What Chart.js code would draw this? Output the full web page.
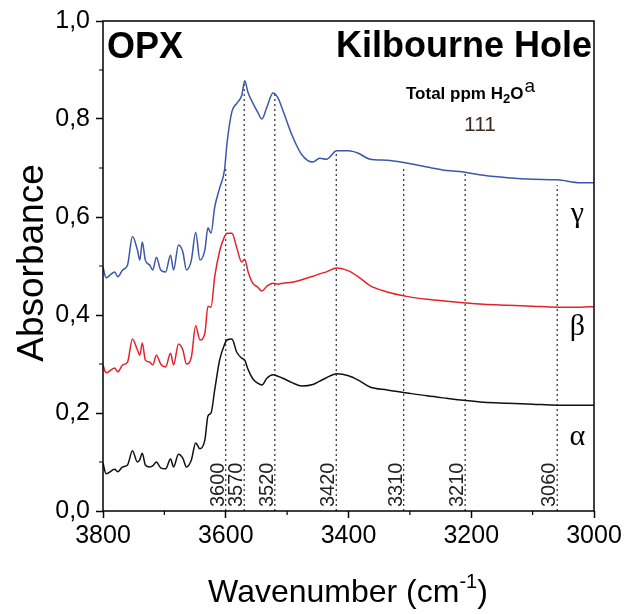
<!DOCTYPE html>
<html lang="en">
<head>
  <meta charset="UTF-8" />
  <title>OPX Kilbourne Hole</title>
  <script src="https://cdn.jsdelivr.net/npm/chart.js"></script>
  <style>
    body { margin: 0; background: #fff; }
    #wrap { width: 628px; height: 614px; }
  </style>
</head>
<body>
  <div id="wrap"><canvas id="ftir" width="628" height="614"></canvas></div>

  <script>
    // wavenumber grid (cm-1) shared by the three spectra
    const wavenumbers = [3800,3795,3781,3776,3768,3760,3752,3744,3740,3736,3731,3724,3719,3713,3706,3698,3690,3685,3677,3670,3664,3656,3649,3642,3634,3629,3624,3618,3610,3602,3598,3590,3582,3574,3569,3564,3556,3548,3541,3533,3523,3515,3507,3492,3476,3458,3447,3436,3419,3400,3384,3365,3337,3305,3272,3240,3213,3180,3141,3100,3060,3022,3000];

    const gamma = [.498,.476,.488,.478,.492,.502,.56,.533,.512,.549,.512,.502,.492,.518,.492,.488,.522,.492,.543,.529,.492,.512,.569,.512,.533,.578,.567,.62,.659,.696,.75,.815,.832,.848,.878,.855,.833,.814,.80,.824,.853,.843,.818,.767,.727,.712,.72,.718,.735,.735,.73,.718,.716,.71,.702,.695,.692,.685,.68,.677,.676,.67,.67];
    const beta = [.298,.282,.292,.284,.298,.304,.351,.329,.318,.343,.308,.304,.298,.318,.300,.294,.322,.298,.341,.329,.300,.314,.378,.349,.363,.418,.416,.478,.53,.56,.567,.567,.537,.508,.514,.49,.465,.457,.449,.459,.465,.463,.465,.467,.472,.479,.484,.488,.496,.49,.478,.46,.447,.438,.432,.428,.425,.422,.42,.418,.416,.416,.417];
    const alpha = [.098,.076,.085,.080,.090,.094,.123,.100,.105,.118,.094,.090,.092,.100,.088,.086,.106,.090,.116,.108,.090,.104,.139,.127,.145,.194,.200,.247,.308,.34,.349,.351,.324,.312,.308,.29,.27,.261,.257,.271,.278,.275,.271,.262,.255,.258,.265,.272,.28,.276,.267,.253,.247,.241,.235,.23,.226,.222,.22,.218,.216,.216,.216];

    // OH band positions and the height the dotted guides reach
    const bandWn = [3600, 3570, 3520, 3420, 3310, 3210, 3060];
    const bandTop = [0.70, 0.873, 0.853, 0.733, 0.70, 0.688, 0.665];

    const xTicks = [3800, 3600, 3400, 3200, 3000];
    const yTicks = [0, 0.2, 0.4, 0.6, 0.8, 1.0];
    const seriesNames = ['α', 'β', 'γ'];
    const waterPpm = '111';

    const FONT = "'Liberation Sans', Arial, sans-serif";

    function toPoints(ys) {
      return wavenumbers.map((w, i) => ({ x: w, y: ys[i] }));
    }

    const spectra = [
      { data: toPoints(alpha), borderColor: '#111111' },
      { data: toPoints(beta), borderColor: '#e3232c' },
      { data: toPoints(gamma), borderColor: '#3b58a8' }
    ].map(d => Object.assign(d, {
      borderWidth: 1.5,
      pointRadius: 0,
      fill: false,
      cubicInterpolationMode: 'monotone'
    }));

    const guides = bandWn.map((w, i) => ({
      data: [{ x: w, y: 0 }, { x: w, y: bandTop[i] }],
      borderColor: '#000',
      borderWidth: 1,
      borderDash: [2, 3],
      pointRadius: 0,
      fill: false
    }));

    // frame, minor ticks and all the text annotations
    const decor = {
      id: 'decor',
      afterDraw(chart) {
        const ctx = chart.ctx;
        const a = chart.chartArea;
        const xs = chart.scales.x, ys = chart.scales.y;
        ctx.save();

        ctx.strokeStyle = '#000';
        ctx.lineWidth = 1.5;
        ctx.strokeRect(a.left, a.top, a.right - a.left, a.bottom - a.top);

        ctx.lineWidth = 1.2;
        ctx.beginPath();
        [3700, 3500, 3300, 3100].forEach(v => {
          const px = xs.getPixelForValue(v);
          ctx.moveTo(px, a.bottom);
          ctx.lineTo(px, a.bottom + 4);
        });
        [0.1, 0.3, 0.5, 0.7, 0.9].forEach(v => {
          const py = ys.getPixelForValue(v);
          ctx.moveTo(a.left, py);
          ctx.lineTo(a.left - 4, py);
        });
        ctx.stroke();

        // band labels, rotated
        ctx.fillStyle = '#222';
        ctx.font = '20px ' + FONT;
        ctx.textAlign = 'left';
        ctx.textBaseline = 'alphabetic';
        bandWn.forEach(w => {
          const px = xs.getPixelForValue(w);
          ctx.save();
          ctx.translate(px - 2, a.bottom - 4);
          ctx.rotate(-Math.PI / 2);
          ctx.fillText(String(w), 0, 0);
          ctx.restore();
        });

        // headings
        ctx.fillStyle = '#000';
        ctx.font = 'bold 36px ' + FONT;
        ctx.textAlign = 'left';
        ctx.fillText('OPX', a.left + 4, a.top + 37);
        ctx.textAlign = 'right';
        ctx.fillText('Kilbourne Hole', a.right - 2, a.top + 36);

        // Total ppm H2O^a
        ctx.textAlign = 'left';
        let x = 406;
        const by = 99;
        ctx.font = 'bold 17px ' + FONT;
        ctx.fillText('Total ppm H', x, by);
        x += ctx.measureText('Total ppm H').width;
        ctx.font = 'bold 13px ' + FONT;
        ctx.fillText('2', x, by + 4);
        x += ctx.measureText('2').width;
        ctx.font = 'bold 17px ' + FONT;
        ctx.fillText('O', x, by);
        x += ctx.measureText('O').width;
        ctx.font = '19px ' + FONT;
        ctx.fillText('a', x + 1, by - 7);

        ctx.fillStyle = '#3a2a22';
        ctx.font = '21px ' + FONT;
        ctx.textAlign = 'center';
        ctx.fillText(waterPpm, 480, 131);

        // series letters
        ctx.fillStyle = '#000';
        ctx.font = "30px 'Liberation Serif', 'Times New Roman', serif";
        const letterY = [0.155, 0.38, 0.61];
        seriesNames.forEach((s, i) => {
          ctx.fillText(s, xs.getPixelForValue(3027), ys.getPixelForValue(letterY[i]) + 10);
        });

        // axis titles
        ctx.font = '37px ' + FONT;
        ctx.save();
        ctx.translate(43, 263);
        ctx.rotate(-Math.PI / 2);
        ctx.textAlign = 'center';
        ctx.fillText('Absorbance', 0, 0);
        ctx.restore();

        ctx.textAlign = 'left';
        const main = 'Wavenumber (cm';
        ctx.font = '32px ' + FONT;
        const w1 = ctx.measureText(main).width;
        ctx.font = '20px ' + FONT;
        const w2 = ctx.measureText('-1').width;
        ctx.font = '32px ' + FONT;
        const w3 = ctx.measureText(')').width;
        let tx = 348 - (w1 + w2 + w3) / 2;
        const ty = 602;
        ctx.fillText(main, tx, ty);
        tx += w1;
        ctx.font = '20px ' + FONT;
        ctx.fillText('-1', tx, ty - 14);
        tx += w2;
        ctx.font = '32px ' + FONT;
        ctx.fillText(')', tx, ty);

        ctx.restore();
      }
    };

    new Chart(document.getElementById('ftir').getContext('2d'), {
      type: 'line',
      data: { datasets: spectra.concat(guides) },
      options: {
        responsive: false,
        animation: false,
        layout: { padding: { top: 21, right: 34, left: 0, bottom: 0 } },
        plugins: {
          legend: { display: false },
          tooltip: { enabled: false }
        },
        scales: {
          x: {
            type: 'linear',
            reverse: true,
            min: 3000,
            max: 3800,
            border: { display: false },
            grid: { drawOnChartArea: false, drawTicks: true, tickLength: 7, tickWidth: 1.5, tickColor: '#000' },
            afterBuildTicks: s => { s.ticks = xTicks.map(v => ({ value: v })); },
            afterFit: s => { s.height = 103; },
            ticks: {
              color: '#000',
              font: { family: FONT, size: 25 },
              padding: 3,
              maxRotation: 0,
              callback: v => String(v)
            }
          },
          y: {
            min: 0,
            max: 1,
            border: { display: false },
            grid: { drawOnChartArea: false, drawTicks: true, tickLength: 7, tickWidth: 1.5, tickColor: '#000' },
            afterBuildTicks: s => { s.ticks = yTicks.map(v => ({ value: v })); },
            afterFit: s => { s.width = 103; },
            ticks: {
              color: '#000',
              font: { family: FONT, size: 25 },
              padding: 6,
              callback: v => v.toFixed(1).replace('.', ',')
            }
          }
        }
      },
      plugins: [decor]
    });
  </script>
</body>
</html>
